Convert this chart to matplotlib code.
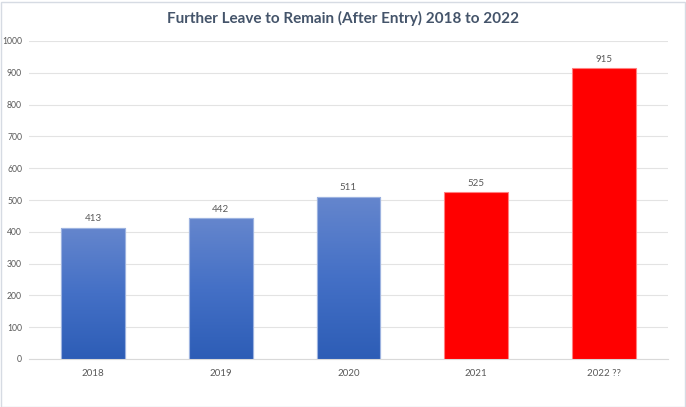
import matplotlib
matplotlib.use("Agg")
import matplotlib.pyplot as plt
import numpy as np
from matplotlib.colors import LinearSegmentedColormap
from matplotlib.patches import Rectangle

categories = ["2018", "2019", "2020", "2021", "2022 ??"]
values = [413, 442, 511, 525, 915]
is_red = [False, False, False, True, True]
yticks = list(range(0, 1001, 100))
title = "Further Leave to Remain (After Entry) 2018 to 2022"

plt.rcParams['font.family'] = ['Lato', 'DejaVu Sans']

fig = plt.figure(figsize=(6.86, 4.07), dpi=100)
ax = fig.add_axes([29/686, 48/407, (668-29)/686, (359-41)/407])

x = np.arange(len(categories))
bars = ax.bar(x, values, width=0.5, color=['#ff0000' if r else '#4472c4' for r in is_red],
              edgecolor=['#ff8080' if r else '#9db3e0' for r in is_red], linewidth=0.8, zorder=3)

blue_cmap = LinearSegmentedColormap.from_list("bg", ["#2d5db6", "#4470c6", "#6586cd"])
grad = np.linspace(0, 1, 256).reshape(-1, 1)
for b, r in zip(bars, is_red):
    if not r:
        bx, by = b.get_x(), b.get_y()
        w, h = b.get_width(), b.get_height()
        im = ax.imshow(grad, cmap=blue_cmap, aspect='auto', origin='lower',
                       extent=[bx, bx + w, by, by + h], zorder=3.5)
        im.set_clip_path(b)
        ax.add_patch(Rectangle((bx, by), w, h, fill=False, edgecolor='#9db3e0', linewidth=0.8, zorder=4))

for xi, v in zip(x, values):
    ax.text(xi, v + 14, str(v), ha='center', va='bottom', fontsize=7, color='#595959', zorder=5)

ax.set_xlim(-0.5, len(categories) - 0.5)
ax.set_ylim(0, 1000)
ax.set_yticks(yticks)
ax.set_yticklabels([str(t) for t in yticks])
ax.set_xticks(x)
ax.set_xticklabels(categories)
ax.tick_params(axis='both', length=0, labelcolor='#595959')
ax.tick_params(axis='x', pad=7, labelsize=7)
ax.tick_params(axis='y', pad=5, labelsize=6.2)
ax.grid(axis='y', color='#e3e3e3', linewidth=0.8, zorder=0)
for s in ['top', 'right', 'left']:
    ax.spines[s].set_visible(False)
ax.spines['bottom'].set_color('#d9d9d9')
ax.spines['bottom'].set_linewidth(0.8)

fig.text(0.5, 1 - 18/407, title, ha='center', va='center', fontsize=11,
         fontweight='bold', color='#44546a')

fig.add_artist(Rectangle((0.5/686, 0.5/407), 684/686, 405/407, transform=fig.transFigure,
                         fill=False, edgecolor='#d6dbe3', linewidth=1))

fig.savefig("out.png", dpi=100)
